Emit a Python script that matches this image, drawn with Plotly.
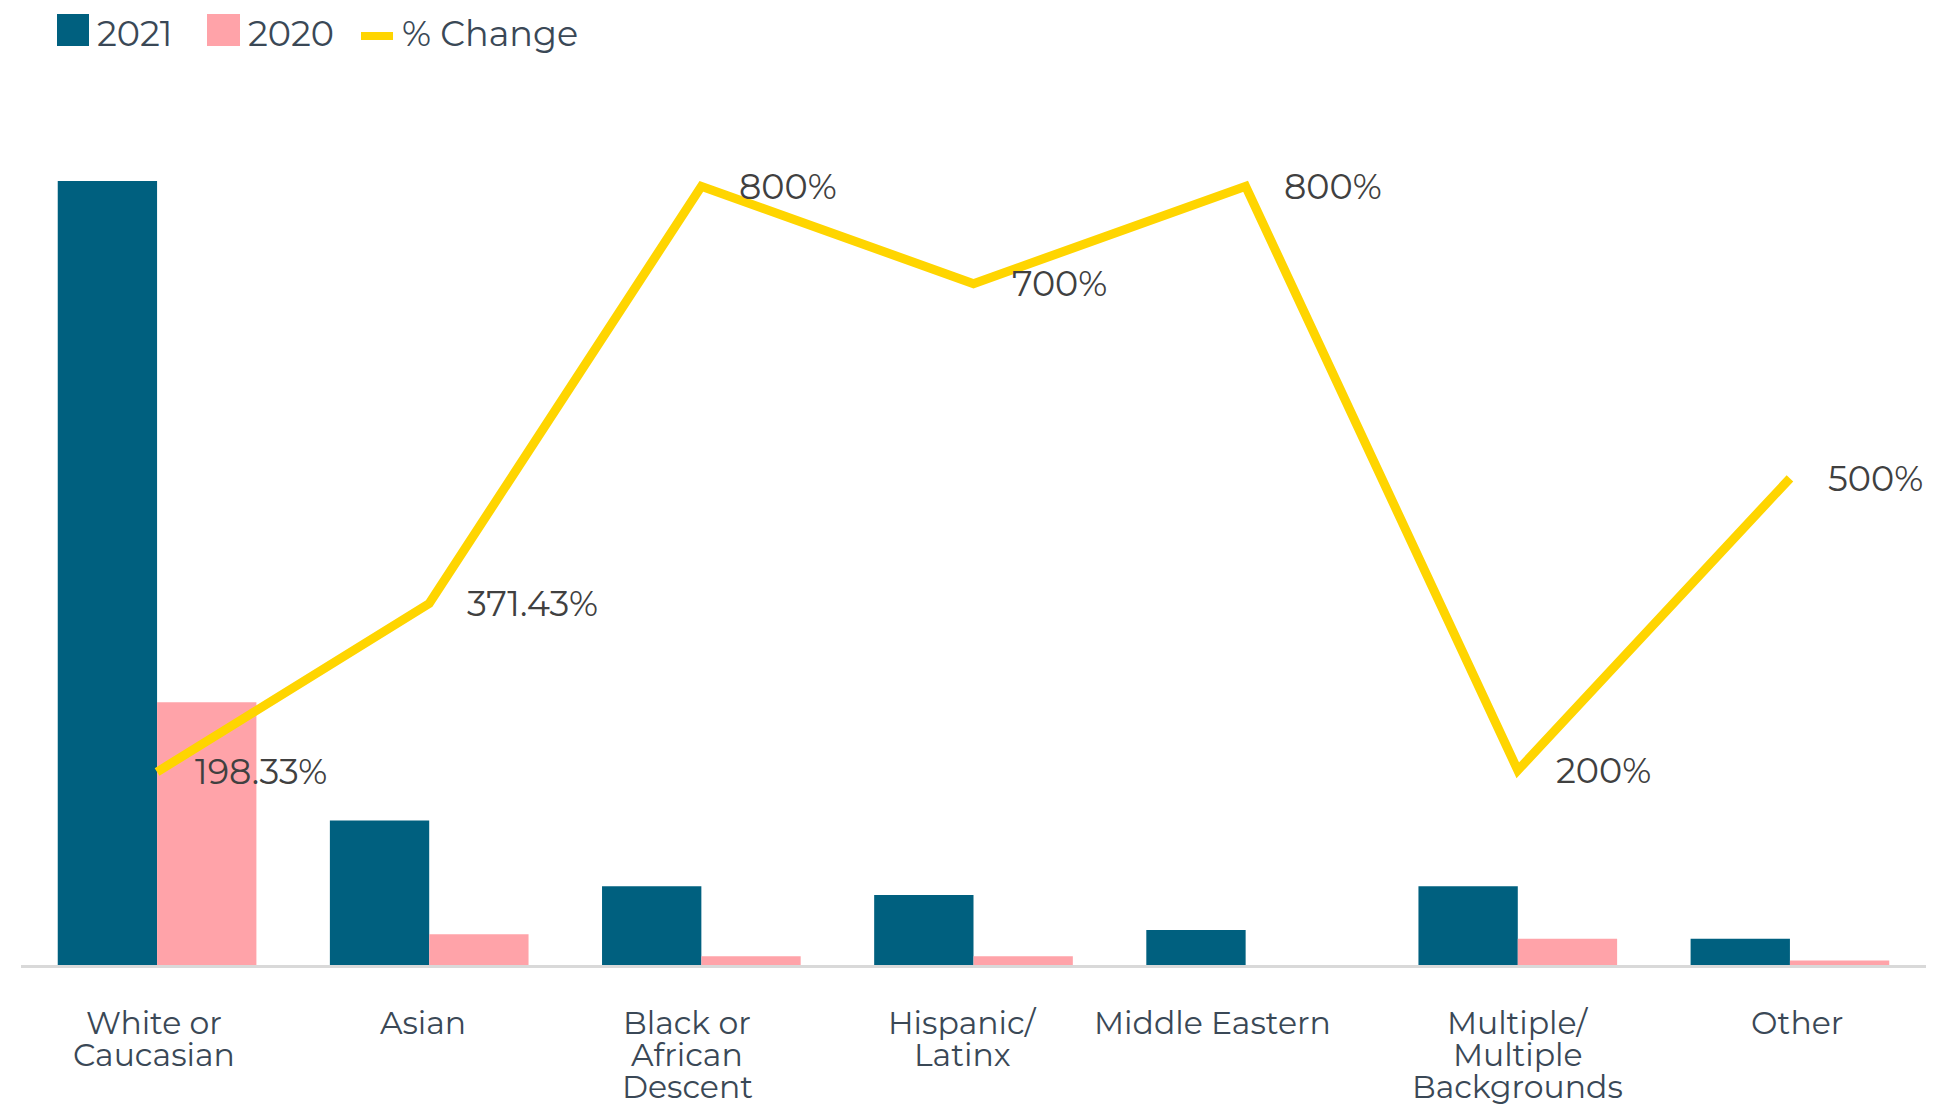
import plotly.graph_objects as go

categories = ["White or<br>Caucasian", "Asian", "Black or<br>African<br>Descent",
              "Hispanic/<br>Latinx", "Middle Eastern",
              "Multiple/<br>Multiple<br>Backgrounds", "Other"]
values_2021 = [179, 33, 18, 16, 8, 18, 6]
values_2020 = [60, 7, 2, 2, 0, 6, 1]
pct_change = [198.33, 371.43, 800, 700, 800, 200, 500]
series_names = ["2021", "2020", "% Change"]

# horizontal nudges of category labels (styling, px)
label_nudge = [-3, -6, -14, -11, -33, 0, 7]

C_2021 = "#00607F"
C_2020 = "#FFA3A9"
C_LINE = "#FFD500"
FONT = "Montserrat, 'Open Sans', sans-serif"
TXT = "#3A4856"

W, H = 1958, 1105
OFF = 8  # page body offset
# desired plot area in screen pixels
SX0, SX1, SY0, SY1 = 21, 1926, 89, 965
L, T = SX0 - OFF, SY0 - OFF
R = W - (SX1 - OFF)
B = H - (SY1 - OFF)

fig = go.Figure()
fig.add_trace(go.Bar(x=categories, y=values_2021, name=series_names[0],
                     marker=dict(color=C_2021, line=dict(width=0))))
fig.add_trace(go.Bar(x=categories, y=values_2020, name=series_names[1],
                     marker=dict(color=C_2020, line=dict(width=0))))
fig.add_trace(go.Scatter(x=categories, y=pct_change, name=series_names[2], yaxis="y2",
                         mode="lines", line=dict(color=C_LINE, width=9)))

annotations = []
for c, v in zip(categories, pct_change):
    annotations.append(dict(x=c, y=v, xref="x", yref="y2", text=f"{v:g}%",
                            showarrow=False, xanchor="left", yanchor="middle",
                            xshift=36, font=dict(family=FONT, size=35, color="#404040")))

# category labels, one annotation per text line
for c, nudge in zip(categories, label_nudge):
    for i, line in enumerate(c.split("<br>")):
        annotations.append(dict(x=c, y=0, xref="x", yref="y", text=line,
                                showarrow=False, xanchor="center", yanchor="middle",
                                xshift=nudge, yshift=-(57.5 + i * 32), borderpad=0,
                                font=dict(family=FONT, size=31.5, color=TXT)))

# manual legend (screen pixel -> paper conversion)
pw, ph = SX1 - SX0, SY1 - SY0
def px(x):
    return (x - SX0) / pw
def py(y):
    return (SY1 - y) / ph

shapes = [
    dict(type="rect", xref="paper", yref="paper", x0=px(57), x1=px(89), y0=py(46), y1=py(14),
         fillcolor=C_2021, line=dict(width=0)),
    dict(type="rect", xref="paper", yref="paper", x0=px(207), x1=px(240), y0=py(46), y1=py(14),
         fillcolor=C_2020, line=dict(width=0)),
    dict(type="line", xref="paper", yref="paper", x0=px(361), x1=px(393), y0=py(36), y1=py(36),
         line=dict(color=C_LINE, width=8)),
]
for name, xpos in zip(series_names, [95, 246, 400]):
    annotations.append(dict(x=px(xpos), y=py(34), xref="paper", yref="paper", text=name,
                            showarrow=False, xanchor="left", yanchor="middle",
                            font=dict(family=FONT, size=35, color=TXT)))

fig.update_layout(
    width=W, height=H,
    margin=dict(l=L, r=R, t=T, b=B, autoexpand=False),
    paper_bgcolor="white", plot_bgcolor="white",
    barmode="group", bargap=0.27, bargroupgap=0,
    showlegend=False,
    font=dict(family=FONT, color=TXT),
    xaxis=dict(showline=True, linecolor="#D9D9D9", linewidth=3, showgrid=False,
               showticklabels=False, ticks="", automargin=False),
    yaxis=dict(range=[0, 200], visible=False, showgrid=False, automargin=False),
    yaxis2=dict(range=[0, 900], overlaying="y", side="right", visible=False,
                showgrid=False, automargin=False),
    shapes=shapes,
    annotations=annotations,
)

fig.write_html("out.html")
